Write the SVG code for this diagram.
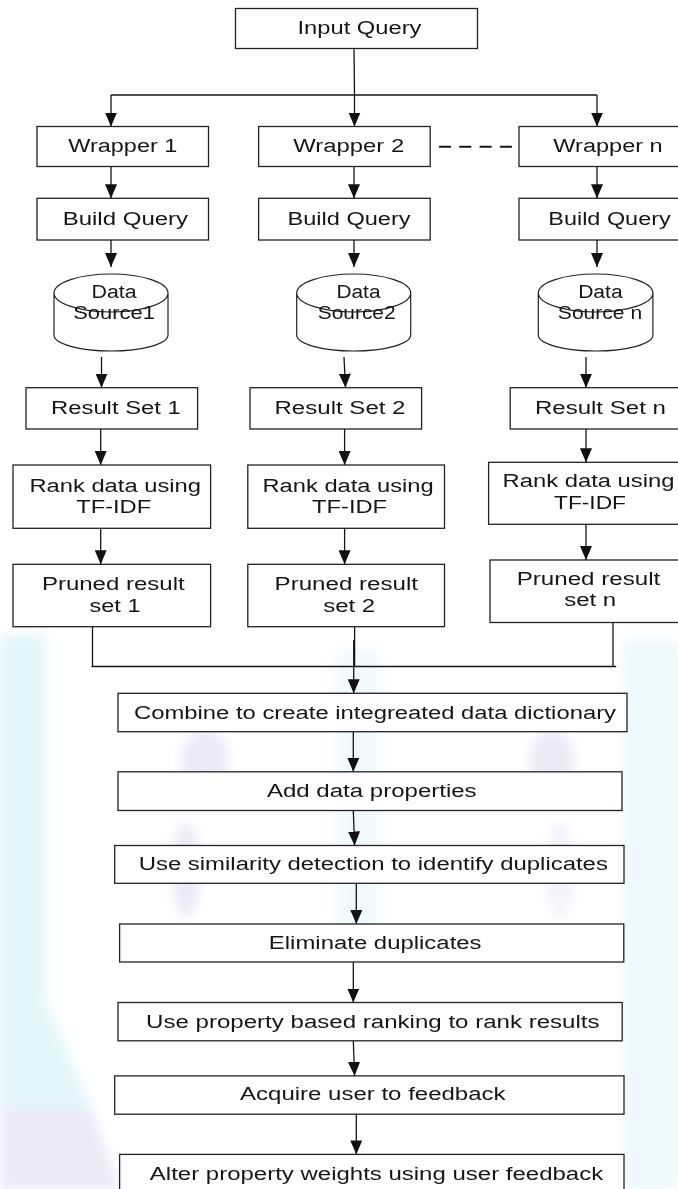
<svg xmlns="http://www.w3.org/2000/svg" width="678" height="1189" viewBox="0 0 678 1189">
<defs>
<style>
.box{fill:#fff;stroke:#222;stroke-width:1.3}
.cyl{fill:#fff;stroke:#222;stroke-width:1.2}
.t{font-family:"Liberation Sans",Arial,sans-serif;font-size:18px;fill:#161616;text-anchor:middle}
.ln{fill:none;stroke:#151515;stroke-width:1.3}
.ar{fill:none;stroke:#151515;stroke-width:1.3;marker-end:url(#ah)}
.dash{fill:none;stroke:#151515;stroke-width:2;stroke-dasharray:12 8.3}
.wc{fill:#d9f2f9}
.wl{fill:#e6e1f6}
</style>
<filter id="soft" x="-20%" y="-20%" width="140%" height="140%"><feGaussianBlur stdDeviation="6"/></filter>
<marker id="ah" markerUnits="userSpaceOnUse" viewBox="0 0 14 12" markerWidth="14" markerHeight="12" refX="14" refY="6" orient="auto">
<path d="M0,0 L14,6 L0,12 Z" fill="#111"/>
</marker>
</defs>
<rect width="678" height="1189" fill="#fff"/>
<g id="watermark" filter="url(#soft)" opacity="0.75">
<path class="wc" d="M0,635 L45,635 L45,1000 L92,1110 L0,1110 Z"/>
<path class="wl" d="M0,1110 L92,1110 L120,1189 L0,1189 Z"/>
<rect class="wc" x="624" y="640" width="54" height="549" opacity="0.7"/>
<rect class="wc" x="336" y="650" width="44" height="300" opacity="0.5"/>
<ellipse class="wl" cx="205" cy="760" rx="24" ry="30"/>
<ellipse class="wl" cx="552" cy="760" rx="22" ry="30"/>
<ellipse class="wl" cx="186" cy="870" rx="14" ry="48"/>
<ellipse class="wl" cx="560" cy="870" rx="14" ry="48" opacity="0.6"/>
</g>
<g id="connectors">
<line class="ln" x1="354" y1="48.5" x2="354.5" y2="95"/>
<line class="ln" x1="111" y1="95" x2="597" y2="95"/>
<line class="ar" x1="111" y1="95" x2="111" y2="126.5"/>
<line class="ar" x1="354.5" y1="95" x2="354.5" y2="126.5"/>
<line class="ar" x1="597" y1="95" x2="597" y2="126.5"/>
<line class="dash" x1="439" y1="146.7" x2="512" y2="146.7"/>
<line class="ar" x1="111" y1="166.5" x2="111" y2="198.3"/>
<line class="ar" x1="354" y1="166.5" x2="354" y2="198.3"/>
<line class="ar" x1="597" y1="166.5" x2="597" y2="198.3"/>
<line class="ar" x1="111" y1="240" x2="111" y2="267"/>
<line class="ar" x1="354" y1="240" x2="354" y2="267"/>
<line class="ar" x1="597" y1="240" x2="597" y2="267"/>
<line class="ar" x1="101.5" y1="357" x2="101.5" y2="387.7"/>
<line class="ar" x1="344" y1="357" x2="345.5" y2="387.7"/>
<line class="ar" x1="586" y1="357" x2="586" y2="387.7"/>
<line class="ar" x1="100.7" y1="429" x2="100.7" y2="465"/>
<line class="ar" x1="344.6" y1="429" x2="344.6" y2="465"/>
<line class="ar" x1="586" y1="429" x2="586" y2="462.3"/>
<line class="ar" x1="100.7" y1="528.3" x2="100.7" y2="564.3"/>
<line class="ar" x1="344.6" y1="525" x2="344.6" y2="564.3"/>
<line class="ar" x1="586" y1="524.3" x2="586" y2="560"/>
<line class="ln" x1="92.5" y1="626.7" x2="92.5" y2="666.5"/>
<line class="ln" x1="354.6" y1="626.7" x2="354.6" y2="666.5"/>
<line class="ln" x1="613" y1="622.5" x2="613" y2="666.5"/>
<line class="ln" x1="91.5" y1="666.5" x2="616.2" y2="666.5"/>
<line class="ar" x1="353.7" y1="640" x2="353.7" y2="693.3"/>
<line class="ar" x1="353.3" y1="731.7" x2="353.3" y2="771.8"/>
<line class="ar" x1="353.3" y1="810.5" x2="354.6" y2="845.5"/>
<line class="ar" x1="356.3" y1="883.3" x2="356.3" y2="924"/>
<line class="ar" x1="353.3" y1="962" x2="353.3" y2="1002.5"/>
<line class="ar" x1="353.3" y1="1040.8" x2="354.6" y2="1075.9"/>
<line class="ar" x1="356.3" y1="1114.2" x2="356.3" y2="1154.4"/>
</g>
<g id="input-query"><rect class="box" x="235.5" y="8.5" width="242" height="40"/><text class="t" x="359.5" y="33.5" textLength="124" lengthAdjust="spacingAndGlyphs">Input Query</text></g>
<g id="wrapper-1"><rect class="box" x="37" y="126.5" width="171.5" height="40"/><text class="t" x="122.8" y="152" textLength="109" lengthAdjust="spacingAndGlyphs">Wrapper 1</text></g>
<g id="wrapper-2"><rect class="box" x="258.6" y="126.5" width="171.6" height="40"/><text class="t" x="348.7" y="152" textLength="111" lengthAdjust="spacingAndGlyphs">Wrapper 2</text></g>
<g id="wrapper-n"><rect class="box" x="519" y="126.5" width="175" height="40"/><text class="t" x="608" y="152" textLength="109.4" lengthAdjust="spacingAndGlyphs">Wrapper n</text></g>
<g id="build-query-1"><rect class="box" x="37" y="198.3" width="171.5" height="41.7"/><text class="t" x="125.4" y="225.3" textLength="125.4" lengthAdjust="spacingAndGlyphs">Build Query</text></g>
<g id="build-query-2"><rect class="box" x="258.6" y="198.3" width="171.6" height="41.7"/><text class="t" x="349" y="225.3" textLength="123" lengthAdjust="spacingAndGlyphs">Build Query</text></g>
<g id="build-query-n"><rect class="box" x="519" y="198.3" width="175" height="41.7"/><text class="t" x="609.5" y="225.3" textLength="122.4" lengthAdjust="spacingAndGlyphs">Build Query</text></g>
<g id="data-source-1"><path class="cyl" d="M54,293 A57,19 0 0 1 168,293 L168,335 A57,16 0 0 1 54,335 Z M54,293 A57,19 0 0 0 168,293"/><text class="t" x="114" y="297.8" textLength="45" lengthAdjust="spacingAndGlyphs">Data</text><text class="t" x="114" y="318.8" textLength="81.7" lengthAdjust="spacingAndGlyphs">Source1</text></g>
<g id="data-source-2"><path class="cyl" d="M296.7,293 A57,19 0 0 1 410.7,293 L410.7,335 A57,16 0 0 1 296.7,335 Z M296.7,293 A57,19 0 0 0 410.7,293"/><text class="t" x="358.5" y="297.8" textLength="44" lengthAdjust="spacingAndGlyphs">Data</text><text class="t" x="356.7" y="318.8" textLength="77.8" lengthAdjust="spacingAndGlyphs">Source2</text></g>
<g id="data-source-n"><path class="cyl" d="M538.3,293 A57.3,19 0 0 1 652.9,293 L652.9,335 A57.3,16 0 0 1 538.3,335 Z M538.3,293 A57.3,19 0 0 0 652.9,293"/><text class="t" x="600.4" y="297.8" textLength="44.5" lengthAdjust="spacingAndGlyphs">Data</text><text class="t" x="600" y="318.8" textLength="84.3" lengthAdjust="spacingAndGlyphs">Source n</text></g>
<g id="result-set-1"><rect class="box" x="26" y="387.7" width="171.6" height="41.3"/><text class="t" x="115.9" y="414.3" textLength="129.7" lengthAdjust="spacingAndGlyphs">Result Set 1</text></g>
<g id="result-set-2"><rect class="box" x="250" y="387.7" width="171.6" height="41.3"/><text class="t" x="340" y="414.3" textLength="131" lengthAdjust="spacingAndGlyphs">Result Set 2</text></g>
<g id="result-set-n"><rect class="box" x="510.2" y="387.7" width="185" height="41.3"/><text class="t" x="600.4" y="414.3" textLength="131" lengthAdjust="spacingAndGlyphs">Result Set n</text></g>
<g id="rank-1"><rect class="box" x="13" y="465" width="197.6" height="63.3"/><text class="t" x="115.2" y="492" textLength="171.6" lengthAdjust="spacingAndGlyphs">Rank data using</text><text class="t" x="113.7" y="513" textLength="75" lengthAdjust="spacingAndGlyphs">TF-IDF</text></g>
<g id="rank-2"><rect class="box" x="247.8" y="465" width="196.7" height="63.3"/><text class="t" x="348.1" y="492" textLength="171.2" lengthAdjust="spacingAndGlyphs">Rank data using</text><text class="t" x="349.6" y="513" textLength="75" lengthAdjust="spacingAndGlyphs">TF-IDF</text></g>
<g id="rank-n"><rect class="box" x="488.6" y="462.3" width="205" height="62"/><text class="t" x="588.5" y="487" textLength="172" lengthAdjust="spacingAndGlyphs">Rank data using</text><text class="t" x="590" y="508.6" textLength="72" lengthAdjust="spacingAndGlyphs">TF-IDF</text></g>
<g id="pruned-1"><rect class="box" x="13" y="564.3" width="197.6" height="62.4"/><text class="t" x="113.3" y="589.6" textLength="142.7" lengthAdjust="spacingAndGlyphs">Pruned result</text><text class="t" x="115" y="612" textLength="51" lengthAdjust="spacingAndGlyphs">set 1</text></g>
<g id="pruned-2"><rect class="box" x="247.8" y="564.3" width="196.7" height="62.4"/><text class="t" x="346.3" y="589.6" textLength="143.4" lengthAdjust="spacingAndGlyphs">Pruned result</text><text class="t" x="349.2" y="612" textLength="52" lengthAdjust="spacingAndGlyphs">set 2</text></g>
<g id="pruned-n"><rect class="box" x="490" y="560" width="205" height="62.5"/><text class="t" x="588.5" y="585.3" textLength="143.6" lengthAdjust="spacingAndGlyphs">Pruned result</text><text class="t" x="590.2" y="606.3" textLength="52" lengthAdjust="spacingAndGlyphs">set n</text></g>
<g id="combine"><rect class="box" x="118" y="693.3" width="509" height="38.4"/><text class="t" x="375" y="718.8" textLength="482" lengthAdjust="spacingAndGlyphs">Combine to create integreated data dictionary</text></g>
<g id="add-properties"><rect class="box" x="118" y="771.8" width="504" height="38.7"/><text class="t" x="371.8" y="797" textLength="209.7" lengthAdjust="spacingAndGlyphs">Add data properties</text></g>
<g id="similarity"><rect class="box" x="114.7" y="845.5" width="509.3" height="37.8"/><text class="t" x="373.3" y="869.6" textLength="469.2" lengthAdjust="spacingAndGlyphs">Use similarity detection to identify duplicates</text></g>
<g id="eliminate"><rect class="box" x="119.6" y="924" width="504.2" height="38"/><text class="t" x="375.2" y="948.6" textLength="212.7" lengthAdjust="spacingAndGlyphs">Eliminate duplicates</text></g>
<g id="property-ranking"><rect class="box" x="118" y="1002.5" width="504.2" height="38.3"/><text class="t" x="372.8" y="1028" textLength="453.5" lengthAdjust="spacingAndGlyphs">Use property based ranking to rank results</text></g>
<g id="acquire"><rect class="box" x="114.7" y="1075.9" width="509.3" height="38.3"/><text class="t" x="372.8" y="1100.3" textLength="265.5" lengthAdjust="spacingAndGlyphs">Acquire user to feedback</text></g>
<g id="alter"><rect class="box" x="119.6" y="1154.4" width="504.4" height="50"/><text class="t" x="376.5" y="1179.8" textLength="453.3" lengthAdjust="spacingAndGlyphs">Alter property weights using user feedback</text></g>
</svg>
